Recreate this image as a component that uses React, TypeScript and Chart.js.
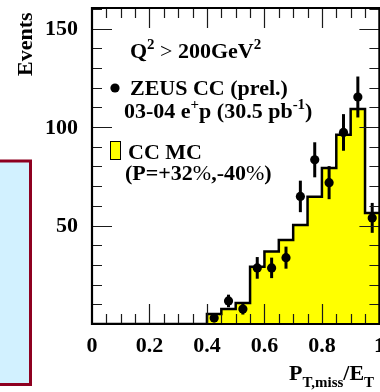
import React, { useEffect, useRef } from "react";
import { Chart, registerables } from "chart.js";

Chart.register(...registerables);

// ---- data ----
const binLow = [0.4, 0.45, 0.5, 0.55, 0.6, 0.65, 0.7, 0.75, 0.8, 0.85, 0.9, 0.95];
const binWidth = 0.05;
const mcEvents = [5.1, 7.6, 10.7, 29.1, 36.8, 42.7, 50.3, 64.6, 79.2, 96.1, 109.2, 56.4];
const dataEvents = [3.0, 11.7, 7.6, 28.5, 28.5, 33.7, 64.8, 83.4, 71.8, 97.3, 115.3, 53.9];
const dataErrors = [1.7, 3.2, 2.8, 5.5, 5.2, 5.6, 8.0, 8.9, 8.4, 9.3, 10.4, 7.6];

const xTickValues = [0, 0.2, 0.4, 0.6, 0.8, 1.0];
const xTickLabels = ["0", "0.2", "0.4", "0.6", "0.8", "1"];
const yTickValues = [50, 100, 150];
const yTickLabels = ["50", "100", "150"];

const X_MIN = 0;
const X_MAX = 1.0;
const Y_MIN = 0;
const Y_MAX = 160.5;

const SERIF = '"Liberation Serif", "Times New Roman", serif';
const FS = 22;

type Part = { t: string; k?: "sup" | "sub"; reg?: boolean };

function drawRich(ctx: CanvasRenderingContext2D, x: number, y: number, parts: Part[], size: number) {
  let cx = x;
  ctx.textAlign = "left";
  ctx.textBaseline = "alphabetic";
  for (const p of parts) {
    let s = size;
    let dy = 0;
    if (p.k === "sup") {
      s = size * 0.68;
      dy = -size * 0.42;
    } else if (p.k === "sub") {
      s = size * 0.68;
      dy = size * 0.3;
    }
    ctx.font = `${p.reg ? "" : "bold "}${s}px ${SERIF}`;
    ctx.fillText(p.t, cx, y + dy);
    cx += ctx.measureText(p.t).width;
  }
  return cx;
}

const framePlugin = {
  id: "zeusFrame",
  afterDatasetsDraw(chart: any) {
    const ctx: CanvasRenderingContext2D = chart.ctx;
    const xs = chart.scales.x;
    const ys = chart.scales.y;
    const { left, right, top, bottom } = chart.chartArea;
    ctx.save();
    // error bars
    ctx.strokeStyle = "#000";
    ctx.lineWidth = 3;
    ctx.lineCap = "butt";
    binLow.forEach((b, i) => {
      const px = xs.getPixelForValue(b + binWidth / 2);
      const y1 = ys.getPixelForValue(dataEvents[i] - dataErrors[i]);
      const y2 = ys.getPixelForValue(dataEvents[i] + dataErrors[i]);
      ctx.beginPath();
      ctx.moveTo(px, y1);
      ctx.lineTo(px, y2);
      ctx.stroke();
    });
    // ticks
    ctx.strokeStyle = "#1a1a1a";
    ctx.lineWidth = 1.2;
    for (let v = 0.05; v < X_MAX + 1e-6; v += 0.05) {
      const px = Math.round(xs.getPixelForValue(v)) + 0.5;
      const major = Math.abs(v * 5 - Math.round(v * 5)) < 1e-6;
      const len = major ? 20 : 10;
      ctx.beginPath();
      ctx.moveTo(px, bottom);
      ctx.lineTo(px, bottom - len);
      ctx.moveTo(px, top);
      ctx.lineTo(px, top + len);
      ctx.stroke();
    }
    for (let v = 10; v <= Y_MAX; v += 10) {
      const py = Math.round(ys.getPixelForValue(v)) + 0.5;
      const major = v % 50 === 0;
      const len = major ? 20 : 10;
      ctx.beginPath();
      ctx.moveTo(left, py);
      ctx.lineTo(left + len, py);
      ctx.moveTo(right, py);
      ctx.lineTo(right - len, py);
      ctx.stroke();
    }
    // frame
    ctx.strokeStyle = "#000";
    ctx.lineWidth = 2.2;
    ctx.beginPath();
    ctx.moveTo(left, top);
    ctx.lineTo(right, top);
    ctx.lineTo(right, bottom);
    ctx.lineTo(left, bottom);
    ctx.closePath();
    ctx.stroke();
    ctx.restore();
  },
  afterDraw(chart: any) {
    const ctx: CanvasRenderingContext2D = chart.ctx;
    const xs = chart.scales.x;
    const ys = chart.scales.y;
    ctx.save();
    ctx.fillStyle = "#000";
    // tick labels
    ctx.font = `bold ${FS}px ${SERIF}`;
    ctx.textAlign = "right";
    ctx.textBaseline = "middle";
    yTickValues.forEach((v, i) => {
      ctx.fillText(yTickLabels[i], 78, ys.getPixelForValue(v) + 1);
    });
    ctx.textAlign = "center";
    ctx.textBaseline = "alphabetic";
    xTickValues.forEach((v, i) => {
      ctx.fillText(xTickLabels[i], xs.getPixelForValue(v), 352);
    });
    // y title
    ctx.save();
    ctx.translate(32, 76);
    ctx.rotate(-Math.PI / 2);
    ctx.textAlign = "left";
    ctx.fillText("Events", 0, 0);
    ctx.restore();
    // x title
    drawRich(ctx, 289, 380, [
      { t: "P" },
      { t: "T,miss", k: "sub" },
      { t: "/E" },
      { t: "T", k: "sub" },
    ], FS);
    // legend
    drawRich(ctx, 130, 58, [
      { t: "Q" },
      { t: "2", k: "sup" },
      { t: " > ", reg: true },
      { t: "200GeV" },
      { t: "2", k: "sup" },
    ], FS);
    ctx.beginPath();
    ctx.arc(115, 88, 4.6, 0, Math.PI * 2);
    ctx.fill();
    drawRich(ctx, 130, 95, [{ t: "ZEUS CC (prel.)" }], FS);
    drawRich(ctx, 124, 118, [
      { t: "03-04 e" },
      { t: "+", k: "sup" },
      { t: "p (30.5 pb" },
      { t: "-1", k: "sup" },
      { t: ")" },
    ], FS);
    ctx.fillStyle = "#ffff00";
    ctx.fillRect(110, 141, 11, 19);
    ctx.strokeStyle = "#000";
    ctx.lineWidth = 1;
    ctx.strokeRect(110.5, 141.5, 10, 18);
    ctx.fillStyle = "#000";
    drawRich(ctx, 128, 159, [{ t: "CC MC" }], FS);
    drawRich(ctx, 125, 180, [
      { t: "(P=+32" },
      { t: "%", reg: true },
      { t: ",-40" },
      { t: "%", reg: true },
      { t: ")" },
    ], FS);
    // partial info box at the left edge
    ctx.fillStyle = "#d2f1ff";
    ctx.fillRect(-5, 161, 35.5, 223.5);
    ctx.strokeStyle = "#8e0020";
    ctx.lineWidth = 3;
    ctx.strokeRect(-5, 161, 35.5, 223.5);
    ctx.restore();
  },
};

export default function App() {
  const ref = useRef<HTMLCanvasElement | null>(null);
  useEffect(() => {
    if (!ref.current) return;
    const mcPoints = [{ x: X_MIN, y: 0 }]
      .concat(binLow.map((b, i) => ({ x: b, y: mcEvents[i] })))
      .concat([{ x: X_MAX, y: mcEvents[mcEvents.length - 1] }]);
    const dataPoints = binLow.map((b, i) => ({ x: b + binWidth / 2, y: dataEvents[i] }));
    const chart = new Chart(ref.current, {
      type: "line",
      data: {
        datasets: [
          {
            label: "CC MC",
            data: mcPoints,
            order: 2,
            stepped: "before",
            borderColor: "#000",
            borderWidth: 2.5,
            backgroundColor: "#ffff00",
            fill: "origin",
            pointRadius: 0,
            tension: 0,
          },
          {
            label: "ZEUS CC (prel.)",
            data: dataPoints,
            order: 1,
            showLine: false,
            pointRadius: 4.6,
            pointBackgroundColor: "#000",
            pointBorderWidth: 0,
            borderColor: "#000",
          },
        ],
      },
      options: {
        animation: false,
        responsive: false,
        devicePixelRatio: 1,
        layout: { padding: { left: 92, top: 8, right: 2, bottom: 68 } },
        scales: {
          x: { type: "linear", min: X_MIN, max: X_MAX, display: false },
          y: { type: "linear", min: Y_MIN, max: Y_MAX, display: false },
        },
        plugins: { legend: { display: false }, tooltip: { enabled: false } },
      },
      plugins: [framePlugin],
    });
    return () => chart.destroy();
  }, []);
  return (
    <div
      style={{
        position: "fixed",
        left: 0,
        top: 0,
        width: 380,
        height: 392,
        overflow: "hidden",
        background: "#fff",
      }}
    >
      <canvas ref={ref} width={384} height={392} style={{ display: "block" }} />
    </div>
  );
}
